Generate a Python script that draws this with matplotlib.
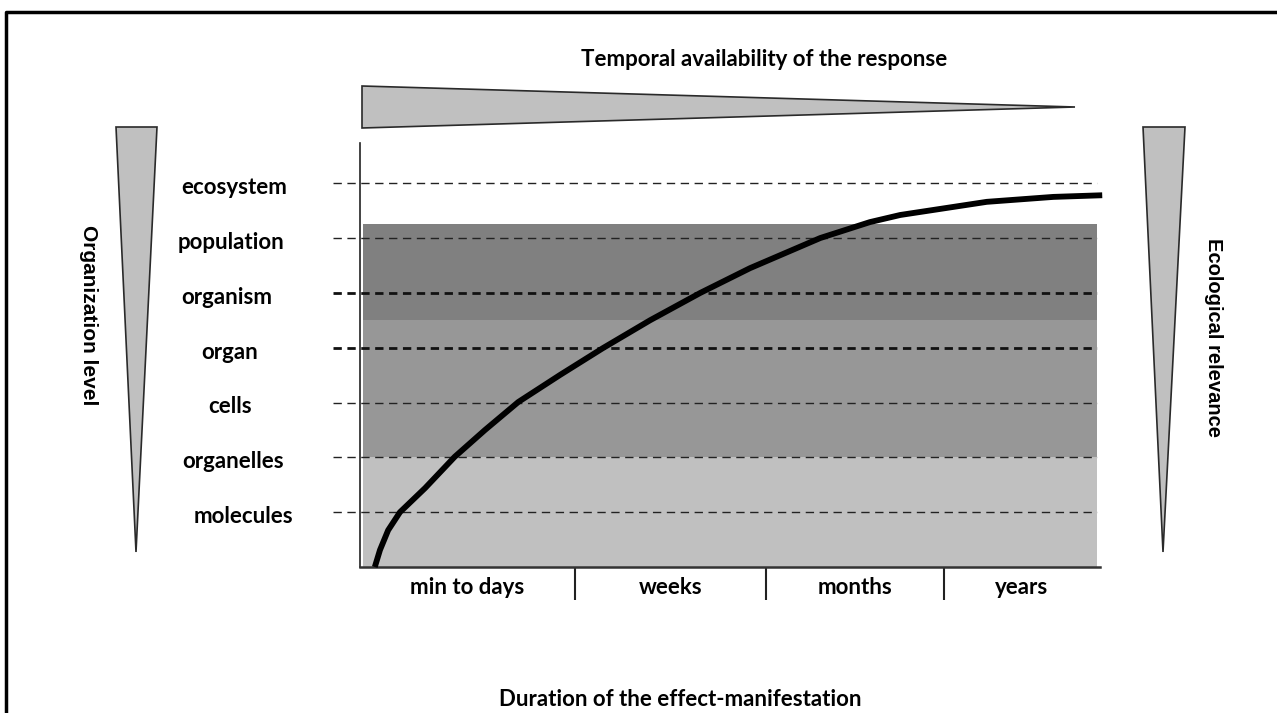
import numpy as np
import matplotlib
matplotlib.use("Agg")
import matplotlib.pyplot as plt
from matplotlib.patches import Polygon

plt.rcParams['font.family'] = ['Lato', 'DejaVu Sans']
plt.rcParams['font.weight'] = 'bold'

W, H = 1277, 713

# organisation levels, bottom to top (y = 1..7)
levels = ["molecules", "organelles", "cells", "organ", "organism", "population", "ecosystem"]
level_y = [1, 2, 3, 4, 5, 6, 7]
bold_levels = ["organ", "organism"]

# duration categories on the x axis (0..100 arbitrary time units)
periods = ["min to days", "weeks", "months", "years"]
period_edges = [0, 29.05, 54.86, 78.92, 100]

# shaded response bands (in level units)
band_lo = [0, 2, 4.5]
band_hi = [2, 4.5, 6.26]
band_colors = ["#c0c0c0", "#979797", "#808080"]

# effect curve
curve_x = [2.0, 2.7, 3.8, 5.4, 8.8, 12.8, 16.9, 21.4, 27.0, 32.8, 39.2, 46.0,
           52.7, 62.2, 68.9, 73.0, 84.7, 93.7, 100.3]
curve_y = [0.0, 0.31, 0.67, 1.0, 1.44, 2.01, 2.5, 3.01, 3.5, 3.99, 4.5, 5.0,
           5.45, 6.0, 6.29, 6.42, 6.66, 6.75, 6.78]

fig = plt.figure(figsize=(W / 100, H / 100), dpi=100)

# overlay in pixel coordinates for the frame and the wedges
ov = fig.add_axes([0, 0, 1, 1], zorder=0)
ov.set_xlim(0, W)
ov.set_ylim(H, 0)
ov.axis('off')
ov.plot([6, 6, W + 5], [H + 5, 12, 12], color='black', lw=2.5, clip_on=False)

tri_kw = dict(closed=True, facecolor='#c0c0c0', edgecolor='#2a2a2a', lw=1.2)
ov.add_patch(Polygon([[362, 86], [362, 128], [1075, 107]], **tri_kw))
ov.add_patch(Polygon([[116, 127], [157, 127], [136, 552]], **tri_kw))
ov.add_patch(Polygon([[1143, 127], [1185, 127], [1163, 552]], **tri_kw))

ov.text(764, 60, "Temporal availability of the response", ha='center', va='center', fontsize=16)
ov.text(680, 700, "Duration of the effect-manifestation", ha='center', va='center', fontsize=16)
ov.text(88, 315, "Organization level", rotation=-90, ha='center', va='center',
        fontsize=15, family=['Liberation Sans'], fontweight='bold')
ov.text(1213, 338, "Ecological relevance", rotation=-90, ha='center', va='center',
        fontsize=14.5, family=['Liberation Sans'], fontweight='bold')

# main chart
ax = fig.add_axes([360 / W, (H - 567) / H, 740 / W, 424 / H], zorder=1)
ax.patch.set_visible(False)
ax.set_xlim(0, 100)
ax.set_ylim(0, 7.733)

for lo, hi, c in zip(band_lo, band_hi, band_colors):
    ax.fill_between([0.4, 99.6], lo, hi, color=c, lw=0, zorder=1)

for name, y in zip(levels, level_y):
    if name in bold_levels:
        ax.plot([-3.65, 99.6], [y, y], color='#111111', lw=2.0,
                linestyle=(0, (3.0, 2.0)), clip_on=False, zorder=2)
    else:
        ax.plot([-3.65, 99.6], [y, y], color='#222222', lw=1.0,
                linestyle=(0, (6, 4)), clip_on=False, zorder=2)

label_cx = [243, 233, 230, 230, 227, 231, 234]
for name, y, cx in zip(levels, level_y, label_cx):
    ax.text((cx - 360) / 7.4, y - 0.08, name, ha='center', va='center',
            fontsize=16, clip_on=False)

ax.plot(curve_x, curve_y, color='black', lw=4.2, solid_capstyle='butt',
        solid_joinstyle='round', clip_on=False, zorder=3)

for s in ['top', 'right']:
    ax.spines[s].set_visible(False)
ax.spines['left'].set_linewidth(1.2)
ax.spines['left'].set_color('#222222')
ax.spines['bottom'].set_linewidth(1.8)
ax.spines['bottom'].set_color('#333333')

ax.set_yticks([])
ax.set_xticks(period_edges[1:-1])
ax.tick_params(axis='x', which='major', direction='out', length=24, width=1.5,
               color='#222222', labelbottom=False)
centers = [(a + b) / 2 for a, b in zip(period_edges[:-1], period_edges[1:])]
ax.set_xticks(centers, minor=True)
ax.set_xticklabels(periods, minor=True, fontsize=16)
ax.tick_params(axis='x', which='minor', length=0, pad=7)

fig.savefig("out.png", dpi=100)
